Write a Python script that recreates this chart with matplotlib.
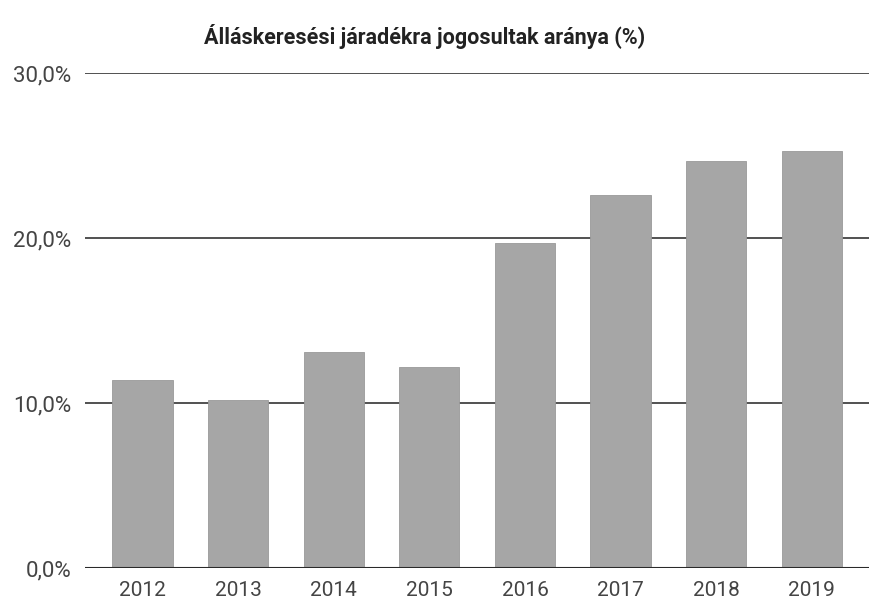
import matplotlib
matplotlib.use("Agg")
import matplotlib.pyplot as plt
from matplotlib.ticker import FuncFormatter

# values
years = ["2012", "2013", "2014", "2015", "2016", "2017", "2018", "2019"]
shares = [11.4, 10.2, 13.1, 12.2, 19.7, 22.6, 24.7, 25.3]
y_ticks = [0, 10, 20, 30]

plt.rcParams["font.family"] = ["Roboto", "DejaVu Sans"]

fig = plt.figure(figsize=(8.71, 6.09), dpi=100)
ax = fig.add_axes([0.0976, 0.0673, 0.9004, 0.8127])

ax.bar(range(len(years)), shares, width=0.63, color="#a6a6a6",
       edgecolor="#999999", linewidth=0.6, zorder=2)

ax.set_xlim(-0.6, len(years) - 0.4)
ax.set_ylim(0, 30)
ax.set_yticks(y_ticks)
ax.yaxis.set_major_formatter(FuncFormatter(lambda v, p: f"{v:.1f}%".replace(".", ",")))
ax.set_xticks(range(len(years)))
ax.set_xticklabels(years)

for v in y_ticks[1:]:
    ax.axhline(v, color="#333333", linewidth=1.2, zorder=1)
ax.axhline(0, color="#2a2a2a", linewidth=1.5, zorder=3)

for s in ax.spines.values():
    s.set_visible(False)
ax.tick_params(axis="both", length=0, labelcolor="#444444")
ax.tick_params(axis="y", pad=10, labelsize=16)
ax.tick_params(axis="x", pad=9, labelsize=15)

fig.text(0.488, 0.94, "Álláskeresési járadékra jogosultak aránya (%)",
         ha="center", va="center", fontsize=15.5, fontweight="bold", color="#222222")

fig.savefig("out.png", dpi=100)
